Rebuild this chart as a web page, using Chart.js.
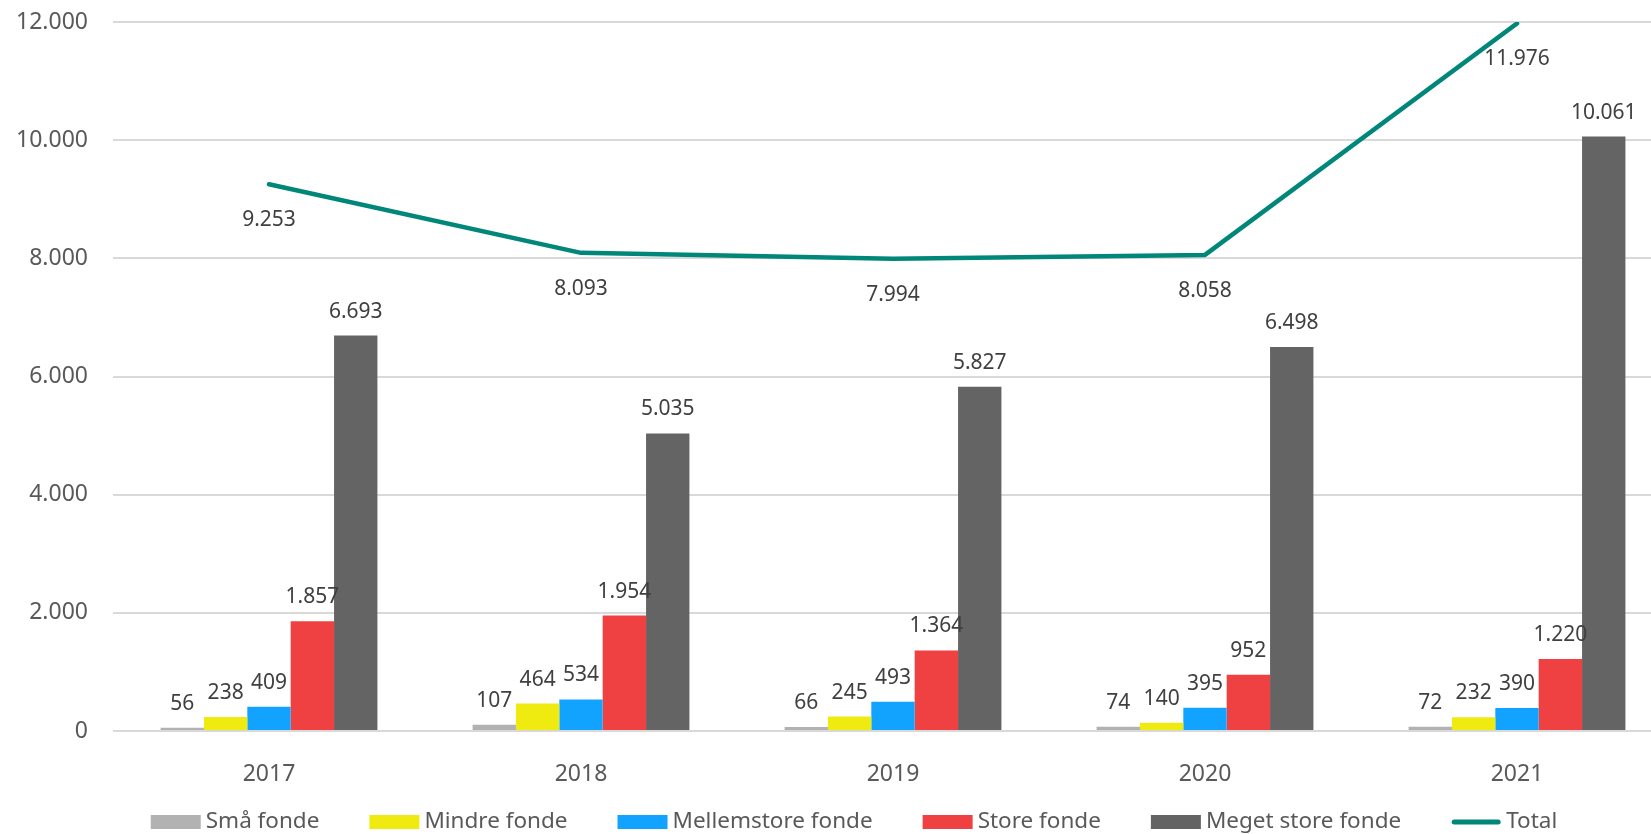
<!DOCTYPE html>
<html>
<head>
<meta charset="utf-8">
<script src="https://cdn.jsdelivr.net/npm/chart.js@4.4.1/dist/chart.umd.min.js"></script>
<style>
html,body{margin:0;padding:0;overflow:hidden;background:#fff;width:1651px;height:834px}
#wrap{position:absolute;left:0;top:0;width:1708px;height:834px}
</style>
</head>
<body>
<div id="wrap"><canvas id="c" width="1708" height="834"></canvas></div>
<script>
const categories = ['2017', '2018', '2019', '2020', '2021'];
const smaFonde = [56, 107, 66, 74, 72];
const mindreFonde = [238, 464, 245, 140, 232];
const mellemstoreFonde = [409, 534, 493, 395, 390];
const storeFonde = [1857, 1954, 1364, 952, 1220];
const megetStoreFonde = [6693, 5035, 5827, 6498, 10061];
const total = [9253, 8093, 7994, 8058, 11976];
const yTickValues = [0, 2000, 4000, 6000, 8000, 10000, 12000];

const FONT = '"Noto Sans", "Open Sans", sans-serif';
const fmt = v => String(Math.round(v)).replace(/\B(?=(\d{3})+(?!\d))/g, '.');

const dataLabelPlugin = {
  id: 'dataLabels',
  afterDatasetsDraw(chart) {
    const ctx = chart.ctx;
    ctx.save();
    ctx.font = '21px ' + FONT;
    ctx.fillStyle = '#404040';
    ctx.textAlign = 'center';
    ctx.textBaseline = 'middle';
    chart.data.datasets.forEach((ds, i) => {
      const meta = chart.getDatasetMeta(i);
      meta.data.forEach((el, j) => {
        const v = ds.data[j];
        const y = ds.type === 'line' ? el.y + 36 : el.y - 24;
        ctx.fillText(fmt(v), el.x, y);
      });
    });
    ctx.restore();
  }
};

const legendPlugin = {
  id: 'customLegend',
  afterDraw(chart) {
    const ctx = chart.ctx;
    ctx.save();
    ctx.font = '22.5px ' + FONT;
    const items = chart.data.datasets.map(ds => ({
      label: ds.label,
      color: ds.type === 'line' ? ds.borderColor : ds.backgroundColor,
      line: ds.type === 'line'
    }));
    const sw = 50, gapText = 5, gapItem = 50;
    let tot = 0;
    items.forEach((it, i) => {
      it.w = sw + gapText + ctx.measureText(it.label).width;
      tot += it.w + (i ? gapItem : 0);
    });
    let x = 854 - tot / 2;
    const y = 822;
    items.forEach(it => {
      if (it.line) {
        ctx.strokeStyle = it.color;
        ctx.lineWidth = 5;
        ctx.lineCap = 'round';
        ctx.beginPath();
        ctx.moveTo(x + 3, y);
        ctx.lineTo(x + sw - 3, y);
        ctx.stroke();
      } else {
        ctx.fillStyle = it.color;
        ctx.fillRect(x, y - 7, sw, 14);
      }
      ctx.fillStyle = '#595959';
      ctx.textBaseline = 'middle';
      ctx.textAlign = 'left';
      ctx.fillText(it.label, x + sw + gapText, y);
      x += it.w + gapItem;
    });
    ctx.restore();
  }
};

new Chart(document.getElementById('c'), {
  data: {
    labels: categories,
    datasets: [
      { type: 'bar', label: 'Små fonde', data: smaFonde, backgroundColor: '#B2B2B2', order: 1 },
      { type: 'bar', label: 'Mindre fonde', data: mindreFonde, backgroundColor: '#EFEA10', order: 1 },
      { type: 'bar', label: 'Mellemstore fonde', data: mellemstoreFonde, backgroundColor: '#12A2FF', order: 1 },
      { type: 'bar', label: 'Store fonde', data: storeFonde, backgroundColor: '#EF4141', order: 1 },
      { type: 'bar', label: 'Meget store fonde', data: megetStoreFonde, backgroundColor: '#646464', order: 1 },
      { type: 'line', label: 'Total', data: total, borderColor: '#00877A', backgroundColor: '#00877A',
        borderWidth: 4.5, pointRadius: 0, tension: 0, borderCapStyle: 'round', borderJoinStyle: 'round', order: 0 }
    ]
  },
  options: {
    responsive: false,
    animation: false,
    devicePixelRatio: 1,
    layout: { padding: { top: 22, right: 35, left: 0, bottom: 0 } },
    datasets: { bar: { barPercentage: 1, categoryPercentage: 0.695, borderWidth: 0 } },
    plugins: { legend: { display: false }, tooltip: { enabled: false } },
    scales: {
      x: {
        grid: { display: false },
        border: { display: false },
        ticks: { color: '#595959', font: { family: FONT, size: 23 }, padding: 22 },
        afterFit(s) { s.height = 103; s.paddingLeft = 0; s.paddingRight = 0; }
      },
      y: {
        min: 0, max: 12000,
        afterBuildTicks(s) { s.ticks = yTickValues.map(v => ({ value: v })); },
        ticks: { color: '#595959', font: { family: FONT, size: 23 }, padding: 25, callback: v => fmt(v) },
        grid: { color: '#D9D9D9', lineWidth: 2, drawTicks: false },
        border: { display: false },
        afterFit(s) { s.width = 113; s.paddingTop = 0; s.paddingBottom = 0; }
      }
    }
  },
  plugins: [dataLabelPlugin, legendPlugin]
});
</script>
</body>
</html>
